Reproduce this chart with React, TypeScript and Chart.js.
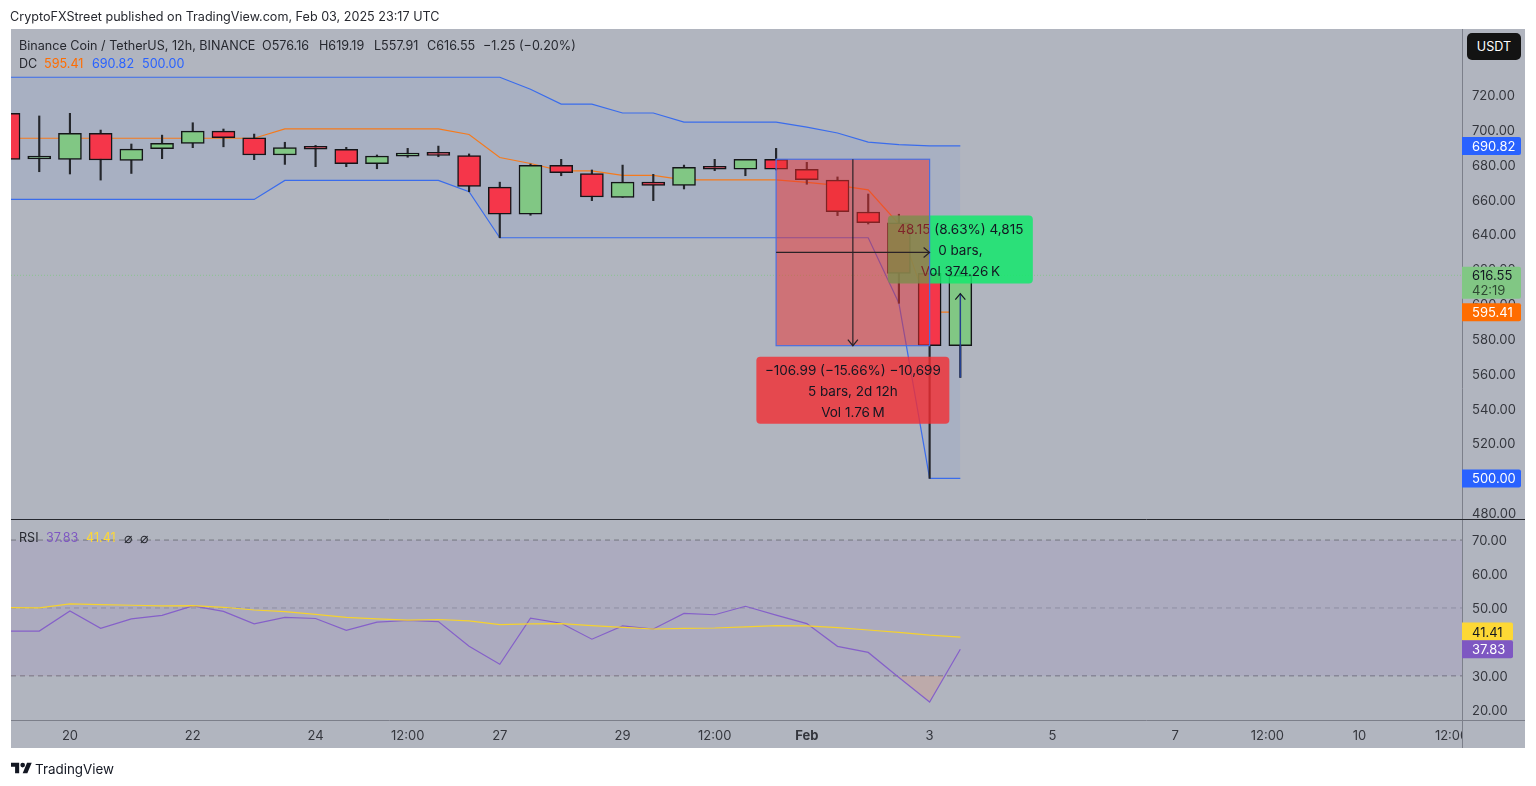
import React, { useEffect, useRef } from 'react';
import { Chart, registerables } from 'chart.js';

Chart.register(...registerables);

const FONT = 'Inter, "Liberation Sans", sans-serif';
const PANEL_BG = '#b1b5bf';

// bars run from index -2 (two bars before Jan 20) to 29, two bars per day
const firstBar = -2;
const opens = [709.5, 683.3, 683.1, 698, 682.5, 689.2, 692.3, 699.3, 695.5, 685.6, 689.8, 688.9, 680.6, 684.9, 686.6, 685.2, 667.2, 651.6, 679.7, 675, 661.3, 670, 668.2, 678.5, 677.4, 683.1, 677.4, 671.2, 652.9, 646.7, 617.7, 576.16];
const closes = [683.1, 683.6, 698, 682.7, 689, 692.3, 699.3, 695.5, 685.6, 689.8, 688.9, 680.6, 685, 686.6, 685.4, 667.6, 651.6, 679.7, 675.4, 661.5, 670, 668.2, 678.5, 677.4, 683.1, 677.5, 671.4, 653, 646.7, 617.7, 576.2, 616.55];
const highs = [709.5, 708, 709.5, 699.9, 691.9, 697, 704.1, 700.5, 697.6, 692.9, 691.1, 690, 685.6, 689.4, 690.7, 686.2, 670, 680.4, 683.1, 677, 679.8, 674.5, 679.8, 683.1, 683.1, 689.4, 681.4, 673, 663.2, 651.6, 617.7, 619.19];
const lows = [683.1, 676, 674.7, 671.2, 675, 683.5, 689.8, 690.3, 682.9, 680.2, 678.9, 678.9, 677.7, 684.3, 684.6, 664.5, 638.1, 651, 673.7, 659.4, 661.3, 659.4, 666.1, 676.6, 673.7, 677, 668.8, 650.8, 646, 600.5, 500, 557.91];

const dcUpper = [730.2, 730.2, 730.2, 730.2, 730.2, 730.2, 730.2, 730.2, 730.2, 730.2, 730.2, 730.2, 730.2, 730.2, 730.2, 730.2, 730.2, 723.3, 714.8, 714.8, 709.7, 709.7, 704.5, 704.5, 704.5, 704.5, 701.6, 698.2, 693, 691.6, 690.82, 690.82];
const dcMiddle = [695.2, 695.2, 695.2, 695.2, 695.2, 695.2, 695.2, 695.2, 695.2, 700.6, 700.6, 700.6, 700.6, 700.6, 700.6, 697.35, 684.15, 680.7, 676.5, 676.5, 673.9, 673.9, 671.3, 671.3, 671.3, 671.3, 669.9, 668.2, 665.6, 646, 595.41, 595.41];
const dcLower = [660.1, 660.1, 660.1, 660.1, 660.1, 660.1, 660.1, 660.1, 660.1, 671, 671, 671, 671, 671, 671, 664.5, 638.1, 638.1, 638.1, 638.1, 638.1, 638.1, 638.1, 638.1, 638.1, 638.1, 638.1, 638.1, 638.1, 600.5, 500, 500];

const rsi = [43.2, 43.2, 49.1, 44, 46.8, 47.8, 50.6, 49, 45.3, 47.2, 46.9, 43.4, 45.8, 46.3, 46, 38.7, 33.4, 47, 45.5, 40.8, 44.7, 43.8, 48.4, 48, 50.5, 47.9, 45.4, 38.7, 36.9, 29.5, 22.3, 37.83];
const rsiMa = [50.1, 50, 51.2, 51, 50.8, 50.6, 50.7, 50.2, 49.4, 48.9, 48.1, 47.2, 46.8, 46.4, 46.6, 46.2, 45.1, 45.3, 45.4, 44.8, 44.3, 43.8, 44, 44.1, 44.4, 44.8, 44.7, 44.2, 43.5, 42.8, 42, 41.41];

const timeTicks = [0, 4, 8, 11, 14, 18, 21, 24, 28, 32, 36, 39, 42, 45];
const timeLabels = ['20', '22', '24', '12:00', '27', '29', '12:00', 'Feb', '3', '5', '7', '12:00', '10', '12:00'];
const priceTicks = [480, 500, 520, 540, 560, 580, 600, 620, 640, 660, 680, 700, 720];
const rsiTicks = [20, 30, 50, 60, 70];
const rsiLevels = [70, 50, 30];
const xRange = [-1.92, 45.34];
const priceRange = [476.7, 757.9];
const rsiRange = [17, 76.2];

const lastPrice = 616.55;
const measureDown = { fromBar: 23, toBar: 28, top: 683.15, bottom: 576.16 };
const measureDownText = ['\u2212106.99 (\u221215.66%) \u221210,699', '5 bars, 2d 12h', 'Vol 1.76\u2009M'];
const measureUp = { bar: 29, top: 606.06, bottom: 557.91 };
const measureUpText = ['48.15 (8.63%) 4,815', '0 bars,', 'Vol 374.26\u2009K'];

const barX = (i: number) => i + firstBar;
const series = (values: number[]) => values.map((y, i) => ({ x: barX(i), y }));
const level = (y: number) => [{ x: xRange[0], y }, { x: xRange[1], y }];

function arrowHead(ctx: CanvasRenderingContext2D, x: number, y: number, dx: number, dy: number) {
    ctx.beginPath();
    ctx.moveTo(x - 6 * dx - 5 * dy, y - 6 * dy - 5 * dx);
    ctx.lineTo(x, y);
    ctx.lineTo(x - 6 * dx + 5 * dy, y - 6 * dy + 5 * dx);
    ctx.stroke();
}

function labelBox(ctx: CanvasRenderingContext2D, cx: number, top: number, w: number, h: number, bg: string, lines: string[]) {
    ctx.fillStyle = bg;
    ctx.beginPath();
    ctx.roundRect(cx - w / 2, top, w, h, 4);
    ctx.fill();
    ctx.fillStyle = '#131722';
    ctx.font = `13.5px ${FONT}`;
    ctx.textAlign = 'center';
    ctx.textBaseline = 'middle';
    lines.forEach((t, i) => ctx.fillText(t, cx, top + 14 + i * 21.3));
}

function tag(ctx: CanvasRenderingContext2D, right: number, y: number, bg: string, fg: string, text: string) {
    ctx.fillStyle = bg;
    ctx.beginPath();
    ctx.roundRect(1462, y - 9, right - 1462, 18, [0, 2, 2, 0]);
    ctx.fill();
    ctx.fillStyle = fg;
    ctx.font = `13px ${FONT}`;
    ctx.textAlign = 'left';
    ctx.textBaseline = 'middle';
    ctx.fillText(text, 1472, y + 1);
}

const decorPlugin = {
    id: 'decor',
    beforeDraw(chart: any) {
        const { ctx } = chart;
        ctx.save();
        ctx.fillStyle = PANEL_BG;
        ctx.fillRect(11, 29, 1514, 719);
        ctx.restore();
    },
    afterDatasetsDraw(chart: any) {
        const { ctx, scales } = chart;
        const px = (v: number) => scales.x.getPixelForValue(v);
        const py = (v: number) => scales.price.getPixelForValue(v);
        ctx.save();

        // long position tool, zero bars wide
        const upX = px(measureUp.bar);
        ctx.strokeStyle = '#24408f';
        ctx.lineWidth = 1.5;
        ctx.beginPath();
        ctx.moveTo(upX, py(measureUp.bottom));
        ctx.lineTo(upX, py(measureUp.top));
        ctx.stroke();
        ctx.strokeStyle = '#131722';
        ctx.lineWidth = 1.2;
        arrowHead(ctx, upX, py(measureUp.top), 0, -1);
        labelBox(ctx, upX, py(measureUp.top) - 78, 145, 68, 'rgba(20,232,108,0.85)', measureUpText);

        // short measure drawn over the green label
        const l = px(measureDown.fromBar);
        const r = px(measureDown.toBar);
        const t = py(measureDown.top);
        const b = py(measureDown.bottom);
        ctx.fillStyle = 'rgba(236,48,48,0.5)';
        ctx.fillRect(l, t, r - l, b - t);
        ctx.strokeStyle = '#4a6fe0';
        ctx.lineWidth = 1.2;
        ctx.strokeRect(l, t, r - l, b - t);
        ctx.strokeStyle = '#2a2226';
        const midX = (l + r) / 2;
        const midY = (t + b) / 2;
        ctx.beginPath();
        ctx.moveTo(midX, t);
        ctx.lineTo(midX, b);
        ctx.moveTo(l, midY);
        ctx.lineTo(r, midY);
        ctx.stroke();
        arrowHead(ctx, midX, b, 0, 1);
        arrowHead(ctx, r, midY, 1, 0);
        labelBox(ctx, midX, b + 11, 193, 67, 'rgba(242,45,50,0.8)', measureDownText);
        ctx.restore();
    },
    afterDraw(chart: any) {
        const { ctx, scales } = chart;
        const py = (v: number) => scales.price.getPixelForValue(v);
        const ry = (v: number) => scales.rsi.getPixelForValue(v);
        ctx.save();
        // the last time label is cut by the price scale
        ctx.fillStyle = PANEL_BG;
        ctx.fillRect(1462, 721, 63, 27);

        ctx.lineWidth = 1;
        ctx.strokeStyle = '#7c7f8a';
        ctx.beginPath();
        ctx.moveTo(1462.5, 29);
        ctx.lineTo(1462.5, 748);
        ctx.moveTo(11, 720.5);
        ctx.lineTo(1525, 720.5);
        ctx.stroke();
        ctx.strokeStyle = '#26282e';
        ctx.beginPath();
        ctx.moveTo(11, 519.5);
        ctx.lineTo(1525, 519.5);
        ctx.stroke();

        tag(ctx, 1521, py(dcUpper[dcUpper.length - 1]), '#2962ff', '#ffffff', '690.82');
        tag(ctx, 1521, py(dcLower[dcLower.length - 1]), '#2962ff', '#ffffff', '500.00');

        const lastY = py(lastPrice);
        ctx.fillStyle = '#81c784';
        ctx.beginPath();
        ctx.roundRect(1462, lastY - 8.5, 59, 32, [0, 2, 2, 0]);
        ctx.fill();
        ctx.font = `13px ${FONT}`;
        ctx.textAlign = 'left';
        ctx.textBaseline = 'middle';
        ctx.fillStyle = '#131722';
        ctx.fillText('616.55', 1472, lastY + 0.5);
        ctx.fillStyle = '#2f4a33';
        ctx.fillText('42:19', 1472, lastY + 15.5);
        tag(ctx, 1521, py(dcMiddle[dcMiddle.length - 1]), '#ff6d00', '#ffffff', '595.41');

        // RSI tags are pushed apart so they do not overlap
        tag(ctx, 1513, ry(rsiMa[rsiMa.length - 1]) - 5.5, '#fdd835', '#131722', '41.41');
        tag(ctx, 1513, ry(rsi[rsi.length - 1]), '#7e57c2', '#ffffff', '37.83');
        ctx.restore();
    },
};

const abs = (left: number, top: number, extra: React.CSSProperties = {}): React.CSSProperties => ({
    position: 'absolute',
    left,
    top,
    font: `12.6px ${FONT}`,
    lineHeight: '16px',
    whiteSpace: 'pre',
    color: '#26282f',
    ...extra,
});

const App: React.FC = () => {
    const canvasRef = useRef<HTMLCanvasElement | null>(null);

    useEffect(() => {
        if (!canvasRef.current) return;
        const ctx = canvasRef.current.getContext('2d');
        if (!ctx) return;

        const candleBodies = opens.map((o, i) => ({ x: barX(i), y: [o, closes[i]] }));
        const candleWicks = lows.map((low, i) => ({ x: barX(i), y: [low, highs[i]] }));
        const bodyColors = opens.map((o, i) => (closes[i] >= o ? '#81c784' : '#f5364a'));

        const lineBase = { type: 'line', pointRadius: 0, borderWidth: 1.2, tension: 0, xAxisID: 'x' };
        const axisGrid = { display: false, drawTicks: false };

        const myChart = new Chart(ctx, {
            type: 'bar',
            data: {
                datasets: [
                    { type: 'bar', label: 'body', data: candleBodies, xAxisID: 'x', yAxisID: 'price', grouped: false, barThickness: 23, minBarLength: 3, backgroundColor: bodyColors, borderColor: '#141518', borderWidth: 1.5, borderSkipped: false },
                    { type: 'bar', label: 'wick', data: candleWicks, xAxisID: 'x', yAxisID: 'price', grouped: false, barThickness: 1.5, backgroundColor: '#24262b', borderWidth: 0 },
                    { ...lineBase, label: 'DC basis', data: series(dcMiddle), yAxisID: 'price', borderColor: '#f57a1c' },
                    { ...lineBase, label: 'DC upper', data: series(dcUpper), yAxisID: 'price', borderColor: '#3a6cec' },
                    { ...lineBase, label: 'DC lower', data: series(dcLower), yAxisID: 'price', borderColor: '#3a6cec', fill: { target: '-1' }, backgroundColor: 'rgba(41,98,255,0.06)' },
                    { ...lineBase, label: 'last', data: level(lastPrice), yAxisID: 'price', borderColor: 'rgba(129,199,132,0.8)', borderWidth: 1, borderDash: [1, 2] },
                    { ...lineBase, label: 'RSI MA', data: series(rsiMa), yAxisID: 'rsi', borderColor: '#f5d22e' },
                    { ...lineBase, label: 'RSI', data: series(rsi), yAxisID: 'rsi', borderColor: '#8560c9', fill: { target: { value: 30 }, above: 'rgba(0,0,0,0)', below: 'rgba(242,130,90,0.2)' } },
                    { ...lineBase, label: 'RSI 70', data: level(rsiLevels[0]), yAxisID: 'rsi', borderColor: '#74767f', borderWidth: 1, borderDash: [5, 4], fill: { target: '+2' }, backgroundColor: 'rgba(126,87,194,0.1)' },
                    { ...lineBase, label: 'RSI 50', data: level(rsiLevels[1]), yAxisID: 'rsi', borderColor: 'rgba(116,118,127,0.5)', borderWidth: 1, borderDash: [5, 4] },
                    { ...lineBase, label: 'RSI 30', data: level(rsiLevels[2]), yAxisID: 'rsi', borderColor: '#74767f', borderWidth: 1, borderDash: [5, 4] },
                ],
            } as any,
            options: {
                animation: false,
                responsive: false,
                devicePixelRatio: 1,
                layout: { padding: { left: 11, top: 29, right: 11, bottom: 38 } },
                plugins: { legend: { display: false }, tooltip: { enabled: false }, title: { display: false } },
                scales: {
                    x: {
                        type: 'linear',
                        offset: false,
                        min: xRange[0],
                        max: xRange[1],
                        grid: axisGrid,
                        border: { display: false },
                        afterBuildTicks: (scale: any) => {
                            scale.ticks = timeTicks.map(value => ({ value }));
                        },
                        afterFit: (scale: any) => {
                            scale.height = 28;
                        },
                        ticks: {
                            autoSkip: false,
                            maxRotation: 0,
                            padding: 8,
                            color: '#34363d',
                            font: (c: any) => ({ family: FONT, size: 13, weight: c.tick && c.tick.value === 24 ? 'bold' : 'normal' }),
                            callback: (value: any) => timeLabels[timeTicks.indexOf(value)],
                        },
                    },
                    price: {
                        type: 'linear',
                        position: 'right',
                        stack: 'panes',
                        stackWeight: 490,
                        weight: 0,
                        min: priceRange[0],
                        max: priceRange[1],
                        grid: axisGrid,
                        border: { display: false },
                        afterBuildTicks: (scale: any) => {
                            scale.ticks = priceTicks.map(value => ({ value }));
                        },
                        afterFit: (scale: any) => {
                            scale.width = 63;
                        },
                        ticks: { padding: 10, labelOffset: 1, color: '#34363d', font: { family: FONT, size: 13 }, callback: (v: any) => Number(v).toFixed(2) },
                    },
                    rsi: {
                        type: 'linear',
                        position: 'right',
                        stack: 'panes',
                        stackWeight: 201,
                        weight: 1,
                        min: rsiRange[0],
                        max: rsiRange[1],
                        grid: axisGrid,
                        border: { display: false },
                        afterBuildTicks: (scale: any) => {
                            scale.ticks = rsiTicks.map(value => ({ value }));
                        },
                        afterFit: (scale: any) => {
                            scale.width = 63;
                        },
                        ticks: { padding: 10, labelOffset: 1, color: '#34363d', font: { family: FONT, size: 13 }, callback: (v: any) => Number(v).toFixed(2) },
                    },
                },
            } as any,
            plugins: [decorPlugin as any],
        });

        return () => {
            myChart.destroy();
        };
    }, []);

    return (
        <div style={{ position: 'absolute', left: 0, top: 0, width: 1536, height: 786, background: '#fff', overflow: 'hidden' }}>
            <canvas ref={canvasRef} width={1536} height={786} style={{ display: 'block' }} />
            <div style={abs(10, 9)}>CryptoFXStreet published on TradingView.com, Feb 03, 2025 23:17 UTC</div>

            <div style={abs(19, 38)}>Binance Coin / TetherUS, 12h, BINANCE</div>
            <div style={abs(262, 38)}>O576.16</div>
            <div style={abs(319, 38)}>H619.19</div>
            <div style={abs(374, 38)}>L557.91</div>
            <div style={abs(427, 38)}>C616.55</div>
            <div style={abs(483, 38)}>−1.25 (−0.20%)</div>

            <div style={abs(19, 56)}>DC</div>
            <div style={abs(44, 56, { color: '#ff6d00' })}>595.41</div>
            <div style={abs(92, 56, { color: '#2962ff' })}>690.82</div>
            <div style={abs(142, 56, { color: '#2962ff' })}>500.00</div>

            <div style={abs(19, 530)}>RSI</div>
            <div style={abs(46, 530, { color: '#7e57c2' })}>37.83</div>
            <div style={abs(86, 530, { color: '#fdd835' })}>41.41</div>
            <div style={abs(124, 530, { fontSize: 14 })}>⌀</div>
            <div style={abs(140, 530, { fontSize: 14 })}>⌀</div>

            <div style={abs(1467, 33, { width: 54, height: 27, background: '#131313', borderRadius: 5, color: '#fff', textAlign: 'center', lineHeight: '27px' })}>USDT</div>
            <svg style={{ position: 'absolute', left: 11, top: 761 }} width="21" height="14" viewBox="0 4 36 18">
                <path d="M14 22H7V11H0V4h14v18zM28 22h-8l7.5-18h8L28 22z" fill="#131722" />
                <circle cx="20" cy="8" r="4" fill="#131722" />
            </svg>
            <div style={abs(35, 760, { fontSize: 13.4, lineHeight: '18px', color: '#131722' })}>TradingView</div>
        </div>
    );
};

export default App;
